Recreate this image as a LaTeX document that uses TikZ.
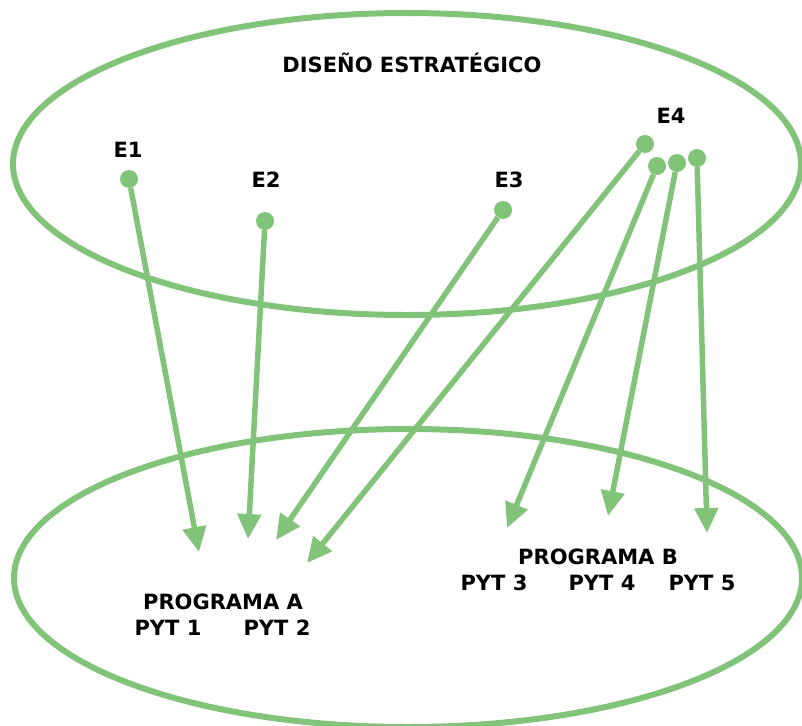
\documentclass[tikz,border=0pt]{standalone}
\usepackage{fontspec}
\setmainfont{DejaVu Sans}
\usetikzlibrary{positioning,arrows.meta}
\definecolor{verde}{RGB}{130,195,122}

\begin{document}
\begin{tikzpicture}
                [x=1pt,y=-1pt,
                dot/.style={circle,fill=verde,minimum size=18pt,inner sep=0pt},
                t/.style={font=\fontsize{21}{24}\selectfont\bfseries,inner sep=0pt},
                flecha/.style={line width=5.5pt,verde,-{Triangle[length=25pt,width=23pt]}},
                borde/.style={line width=6pt,verde}]
                \useasboundingbox (0,0) rectangle (802,725);
                \draw[borde] (407,164) ellipse (394 and 151);
                \draw[borde] (408,578) ellipse (394 and 149);
                \node[t] (titulo) at (412,63) {DISEÑO ESTRATÉGICO};
                \node[dot] (e1) at (129,179) {};
                \node[t] (texte1) at (128,150) {E1};
                \node[dot] (e2) at (265,221) {};
                \node[t] (texte2) at (266,180) {E2};
                \node[dot] (e3) at (503,210) {};
                \node[t] (texte3) at (509,180) {E3};
                \node[t] (texte4) at (671,116) {E4};
                \node[dot] (e4a) at (645,144) {};
                \node[dot] (e4b) at (657,166) {};
                \node[dot] (e4c) at (677,163) {};
                \node[dot] (e4d) at (697,158) {};
                % programa A
                \node[t] (proga) at (223,602) {PROGRAMA A};
                \node[t] (pyt1) at (168,628) {PYT 1};
                \node[t] (pyt2) at (277,628) {PYT 2};
                % programa B
                \node[t] (progb) at (598,557) {PROGRAMA B};
                \node[t] (pyt3) at (494,583) {PYT 3};
                \node[t] (pyt4) at (602,583) {PYT 4};
                \node[t] (pyt5) at (702,583) {PYT 5};
                \coordinate (a1) at (199,552);
                \coordinate (a2) at (248,539);
                \coordinate (a3) at (276,540);
                \coordinate (a4) at (307,563);
                \coordinate (b3) at (507,528);
                \coordinate (b4) at (608,516);
                \coordinate (b5) at (707,533);
                \draw[flecha] (e1) -- (a1);
                \draw[flecha] (e2) -- (a2);
                \draw[flecha] (e3) -- (a3);
                \draw[flecha] (e4a) -- (a4);
                \draw[flecha] (e4b) -- (b3);
                \draw[flecha] (e4c) -- (b4);
                \draw[flecha] (e4d) -- (b5);
            \end{tikzpicture}
\end{document}
